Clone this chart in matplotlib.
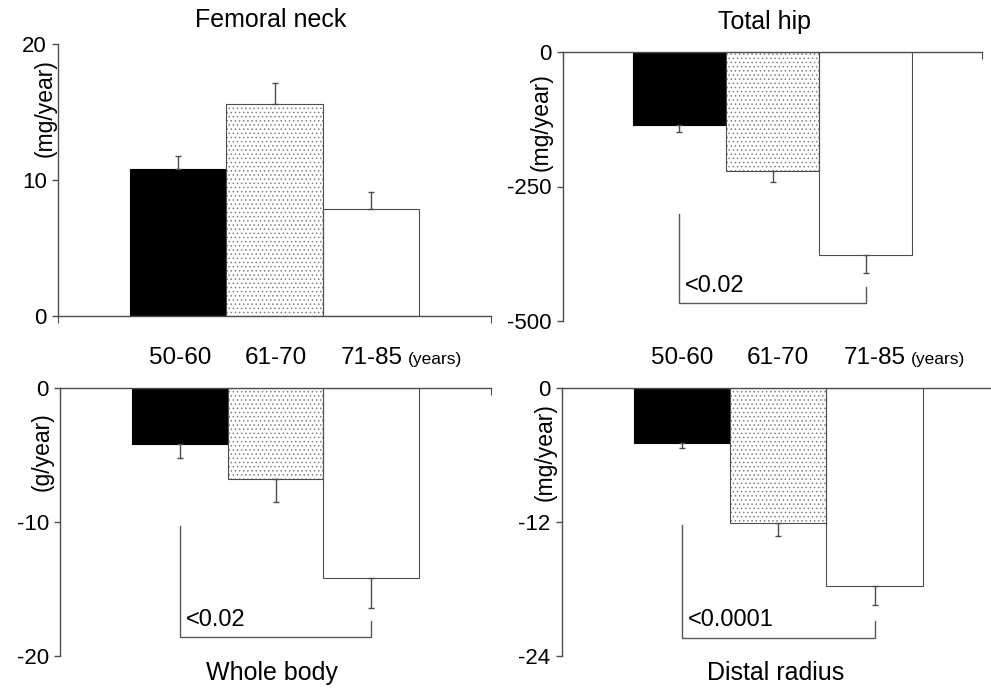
import matplotlib
matplotlib.use('Agg')
import matplotlib.pyplot as plt

plt.rcParams['font.family'] = ['Liberation Sans', 'DejaVu Sans']
plt.rcParams['hatch.linewidth'] = 0.6

# age groups
groups = ['50-60', '61-70', '71-85']

# yearly change per site and age group, with SEM
femoral_neck = [10.8, 15.6, 7.9]
femoral_neck_err = [1.0, 1.55, 1.2]
total_hip = [-136, -221, -377]
total_hip_err = [13, 21, 34]
whole_body = [-4.2, -6.8, -14.2]
whole_body_err = [1.05, 1.7, 2.2]
distal_radius = [-4.95, -12.1, -17.7]
distal_radius_err = [0.45, 1.2, 1.7]

# significance brackets: (left top, bottom, right top), p-value text
hip_bracket = [-302, -466, -437]
whole_bracket = [-10.3, -18.6, -17.4]
radius_bracket = [-12.3, -22.4, -20.9]
p_hip = '<0.02'
p_whole = '<0.02'
p_radius = '<0.0001'

W, H = 991, 690
fig = plt.figure(figsize=(W / 100, H / 100), dpi=100)


def px_axes(x0, x1, ytop, ybot):
    return fig.add_axes([x0 / W, 1 - ybot / H, (x1 - x0) / W, (ybot - ytop) / H])


def draw_panel(ax, vals, errs, ylim, yticks, ylabel, lab_xy):
    x = list(range(len(vals)))
    neg = vals[0] < 0
    # solid, dotted, open
    ax.bar(x[0], vals[0], width=1.0, color='black', edgecolor='black', linewidth=0.8, zorder=2)
    ax.bar(x[1], vals[1], width=1.0, color='white', edgecolor='0.5', hatch='....', linewidth=0, zorder=2)
    ax.bar(x[1], vals[1], width=1.0, color='none', edgecolor='0.3', linewidth=0.8, zorder=3)
    ax.bar(x[2], vals[2], width=1.0, color='white', edgecolor='0.3', linewidth=0.8, zorder=2)
    if neg:
        yerr = [errs, [0] * len(errs)]
    else:
        yerr = [[0] * len(errs), errs]
    ax.errorbar(x, vals, yerr=yerr, fmt='none', ecolor='0.3', elinewidth=1, capsize=2.2, capthick=1, zorder=4)

    ax.set_xlim(-1.25, 3.25)
    ax.set_ylim(*ylim)
    ax.set_yticks(yticks)
    ax.set_yticklabels([f'{t:g}' for t in yticks])
    ax.spines['right'].set_visible(False)
    for s in ['left', 'top', 'bottom']:
        ax.spines[s].set_color('0.3')
        ax.spines[s].set_linewidth(1)
    if neg:
        ax.spines['bottom'].set_visible(False)
        ax.xaxis.set_ticks_position('top')
        ax.tick_params(axis='x', direction='in', length=5, color='0.3')
    else:
        ax.spines['top'].set_visible(False)
        ax.tick_params(axis='x', direction='out', length=5, color='0.3')
    ax.set_xticks([-1.25, 3.25])
    ax.set_xticklabels(['', ''])
    ax.tick_params(axis='y', direction='out', length=4, width=1, color='0.3', labelsize=16, pad=4)
    ax.text(lab_xy[0], lab_xy[1], ylabel, transform=ax.transAxes, rotation=90,
            ha='center', va='center', fontsize=16.5)


def draw_bracket(ax, br, ptxt, ty):
    ax.plot([0, 0, 2, 2], [br[0], br[1], br[1], br[2]], color='0.35', linewidth=1, zorder=1)
    ax.text(0.06, ty, ptxt, ha='left', va='center', fontsize=17)


def draw_groups(ax):
    for i, g in enumerate(groups):
        ax.text(i, 1.11, g, transform=ax.get_xaxis_transform(), ha='center', va='center', fontsize=17.5)
    ax.text(2.38, 1.105, '(years)', transform=ax.get_xaxis_transform(), ha='left', va='center', fontsize=12.5)


ax1 = px_axes(58, 491, 44, 316)
draw_panel(ax1, femoral_neck, femoral_neck_err, (0, 20), [0, 10, 20], '(mg/year)', (-0.03, 0.765))

ax2 = px_axes(563, 982, 52, 321)
draw_panel(ax2, total_hip, total_hip_err, (-500, 0), [-500, -250, 0], '(mg/year)', (-0.053, 0.74))
draw_bracket(ax2, hip_bracket, p_hip, -435)

ax3 = px_axes(60, 491, 387.7, 656)
draw_panel(ax3, whole_body, whole_body_err, (-20, 0), [-20, -10, 0], '(g/year)', (-0.042, 0.76))
draw_bracket(ax3, whole_bracket, p_whole, -17.3)
draw_groups(ax3)

ax4 = px_axes(561.7, 995, 387.7, 656)
draw_panel(ax4, distal_radius, distal_radius_err, (-24, 0), [-24, -12, 0], '(mg/year)', (-0.038, 0.76))
draw_bracket(ax4, radius_bracket, p_radius, -20.8)
draw_groups(ax4)

fig.text(271 / W, 1 - 20 / H, 'Femoral neck', ha='center', va='center', fontsize=18)
fig.text(764 / W, 1 - 22 / H, 'Total hip', ha='center', va='center', fontsize=18)
fig.text(272 / W, 1 - 673 / H, 'Whole body', ha='center', va='center', fontsize=18)
fig.text(776 / W, 1 - 673 / H, 'Distal radius', ha='center', va='center', fontsize=18)

fig.savefig('out.png', dpi=100)
